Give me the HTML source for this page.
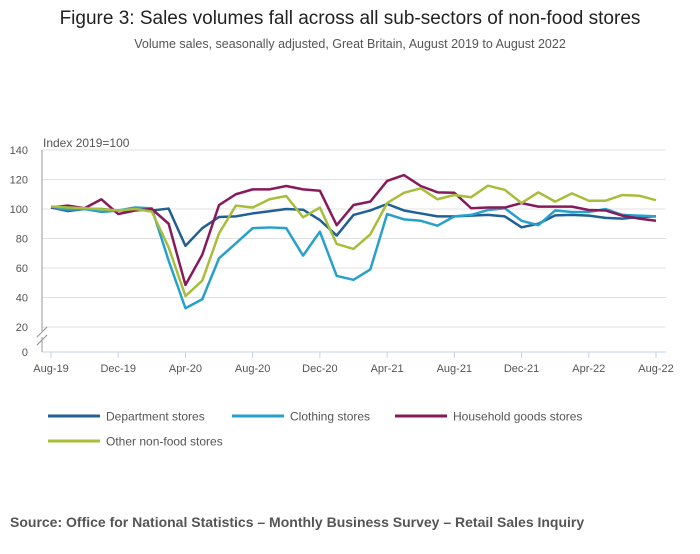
<!DOCTYPE html>
<html><head><meta charset="utf-8"><style>
body{margin:0;background:#fff;font-family:"Liberation Sans",sans-serif;}
svg text{font-family:"Liberation Sans",sans-serif;}
</style></head><body>
<svg id="c" width="700" height="549">
<text x="350" y="24" text-anchor="middle" font-size="19" fill="#222">Figure 3: Sales volumes fall across all sub-sectors of non-food stores</text>
<text x="350" y="48" text-anchor="middle" font-size="12.5" fill="#555">Volume sales, seasonally adjusted, Great Britain, August 2019 to August 2022</text>
<text x="43" y="147" font-size="12" fill="#555">Index 2019=100</text>
<g id="grid"></g><g id="series"></g><g id="axes"></g>
<text x="10" y="527" font-size="14" font-weight="bold" fill="#555">Source: Office for National Statistics – Monthly Business Survey – Retail Sales Inquiry</text>
<g id="legend"></g>
</svg>
<script>
const months=37;
const xTickLabels=["Aug-19","Dec-19","Apr-20","Aug-20","Dec-20","Apr-21","Aug-21","Dec-21","Apr-22","Aug-22"];
const yTicks=[20,40,60,80,100,120,140];
const seriesNames=["Department stores","Clothing stores","Household goods stores","Other non-food stores"];
const department=[101,98.6,100,100,99,99.6,99,100.3,75,87,94.6,95,97,98.5,100,99.5,92.5,82,96,99,103.4,99,97,95,95,95.5,96,95,87.6,90,95.7,96,95.5,94,93.5,94.5,95];
const clothing=[101,99.5,100,98,99,101,100.5,65,32.7,38.8,66.6,76.7,87,87.5,87,68.4,84.6,54.6,52,59,96.6,93,92,88.7,95,96,99.3,100.5,92,89,99,98,98,100,96,95.5,95];
const household=[101,102.3,100.5,106.6,96.6,99,100,90,48.5,69,102.7,110,113.3,113.3,115.6,113.3,112.4,89,102.7,105,119,123,115.6,111.3,111,100.5,101,101,104,101.6,101.6,101.6,99.3,99,95.5,93.5,92];
const other=[101.7,101,100.5,99.8,99,100,98.2,74,41,51.4,83.5,102.3,101,106.6,108.8,94.4,101,76.3,72.9,82.8,104,111,114,106.6,109.5,108,115.8,113,104,111.3,105,110.6,105.6,105.6,109.5,109,106];
const colors=["#206095","#27a0cc","#871a5b","#a8bd3a"];
const NS="http://www.w3.org/2000/svg";
function X(i){return 51+i*(656-51)/(months-1);}
function Y(v){return 209-(v-100)*1.475;}
function mk(t,a,p){const e=document.createElementNS(NS,t);for(const k in a)e.setAttribute(k,a[k]);p.appendChild(e);return e;}
const grid=document.getElementById('grid'),axes=document.getElementById('axes'),ser=document.getElementById('series'),leg=document.getElementById('legend');
yTicks.forEach(v=>{const l=mk('line',{x1:42,x2:666,y1:Y(v),y2:Y(v),stroke:'#e0e0e0','stroke-width':1},grid);


const t=mk('text',{x:28,y:Y(v)+4,'text-anchor':'end','font-size':11,fill:'#555'},axes);t.textContent=v;

});
const z=mk('text',{x:28,y:356,'text-anchor':'end','font-size':11,fill:'#555'},axes);z.textContent='0';


mk('line',{x1:42,x2:42,y1:150,y2:352,stroke:'#999'},axes);
const br=mk('path',{d:'M37,337 L47,327 M37,345 L47,335',stroke:'#999',fill:'none'},axes);


mk('rect',{x:38,y:331,width:8,height:6,fill:'#fff'},axes);
mk('path',{d:'M37,337 L47,327 M37,345 L47,335',stroke:'#999',fill:'none'},axes);
const xa=mk('line',{x1:42,x2:666,y1:352,y2:352,stroke:'#c5d3e6'},axes);


xTickLabels.forEach((s,k)=>{const x=X(k*4);mk('line',{x1:x,x2:x,y1:352,y2:358,stroke:'#c5d3e6'},axes);
const t=mk('text',{x:x,y:372,'text-anchor':'middle','font-size':11,fill:'#555'},axes);t.textContent=s;

});
[department,clothing,household,other].forEach((d,s)=>{const p=mk('polyline',{points:d.map((v,i)=>X(i)+','+Y(v)).join(' '),fill:'none',stroke:colors[s],'stroke-width':2.5,'stroke-linejoin':'round'},ser);

});
const lpos=[[48,416],[232,416],[395,416],[48,441]];
seriesNames.forEach((n,s)=>{const g=mk('g',{},leg);


const [x,y]=lpos[s];mk('line',{x1:x,x2:x+52,y1:y,y2:y,stroke:colors[s],'stroke-width':3},g);
const t=mk('text',{x:x+58,y:y+4.5,'font-size':12,fill:'#555'},g);t.textContent=n;});
</script>
</body></html>
